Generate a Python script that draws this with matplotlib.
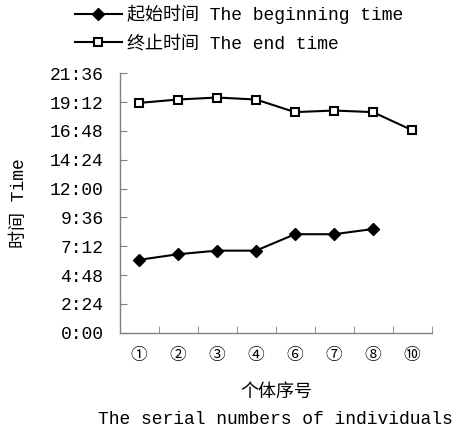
import numpy as np
import matplotlib.pyplot as plt
from matplotlib.lines import Line2D
from matplotlib.ticker import FuncFormatter, MultipleLocator

# data
individuals = ['①', '②', '③', '④', '⑥', '⑦', '⑧', '⑩']
begin_time = ['6:04', '6:32', '6:50', '6:50', '8:12', '8:12', '8:38']
end_time = ['19:08', '19:25', '19:35', '19:25', '18:22', '18:30', '18:22', '16:52']


def to_min(s):
    h, m = s.split(':')
    return int(h) * 60 + int(m)


begin_min = [to_min(t) for t in begin_time]
end_min = [to_min(t) for t in end_time]

plt.rcParams['font.family'] = ['Liberation Mono', 'Noto Sans CJK SC', 'DejaVu Sans']
plt.rcParams['font.size'] = 13

fig = plt.figure(figsize=(4.67, 4.32), dpi=100)
ax = fig.add_axes([119.5 / 467, 1 - 332.7 / 432, 312 / 467, 259.4 / 432])

x = np.arange(len(individuals))
ax.plot(x[:len(begin_min)], begin_min, color='black', lw=1.5, marker='D',
        markersize=6.5, markerfacecolor='black', label='起始时间 The beginning time')
ax.plot(x, end_min, color='black', lw=1.5, marker='s', markersize=5.5,
        markerfacecolor='white', markeredgewidth=1.5, label='终止时间 The end time')

ax.set_xlim(-0.5, len(individuals) - 0.5)
ax.set_ylim(0, 1296)
ax.yaxis.set_major_locator(MultipleLocator(144))
ax.yaxis.set_major_formatter(FuncFormatter(lambda v, p: '%d:%02d' % (int(v) // 60, int(v) % 60)))

ax.set_xticks(x)
ax.set_xticklabels(individuals, family=['Noto Sans CJK SC'], fontsize=12)
ax.set_xticks(np.arange(0.5, len(individuals) - 0.5 + 0.01, 1), minor=True)
ax.tick_params(axis='x', which='major', length=0, pad=10)
ax.tick_params(axis='x', which='minor', direction='in', length=5, color='#808080')
ax.tick_params(axis='y', direction='in', length=5, color='#808080', pad=11.5)

for s in ['top', 'right']:
    ax.spines[s].set_visible(False)
for s in ['left', 'bottom']:
    ax.spines[s].set_color('#808080')
    ax.spines[s].set_linewidth(1.0)

fig.text(276 / 467, 1 - 392 / 432, '个体序号', ha='center', va='center')
fig.text(275 / 467, 1 - 419 / 432, 'The serial numbers of individuals', ha='center', va='center')
fig.text(20 / 467, 1 - 203 / 432, '时间 Time', ha='center', va='center', rotation=90)

handles = [
    Line2D([], [], color='black', lw=1.5, marker='D', markersize=6.5, markerfacecolor='black'),
    Line2D([], [], color='black', lw=1.5, marker='s', markersize=5.5,
           markerfacecolor='white', markeredgewidth=1.5),
]
fig.legend(handles, ['起始时间 The beginning time', '终止时间 The end time'],
           loc='upper left', bbox_to_anchor=(75 / 467, 1 - 5 / 432), frameon=False,
           borderpad=0, borderaxespad=0, handlelength=2.6, handletextpad=0.3,
           labelspacing=0.6)

fig.savefig('out.png', dpi=100)
